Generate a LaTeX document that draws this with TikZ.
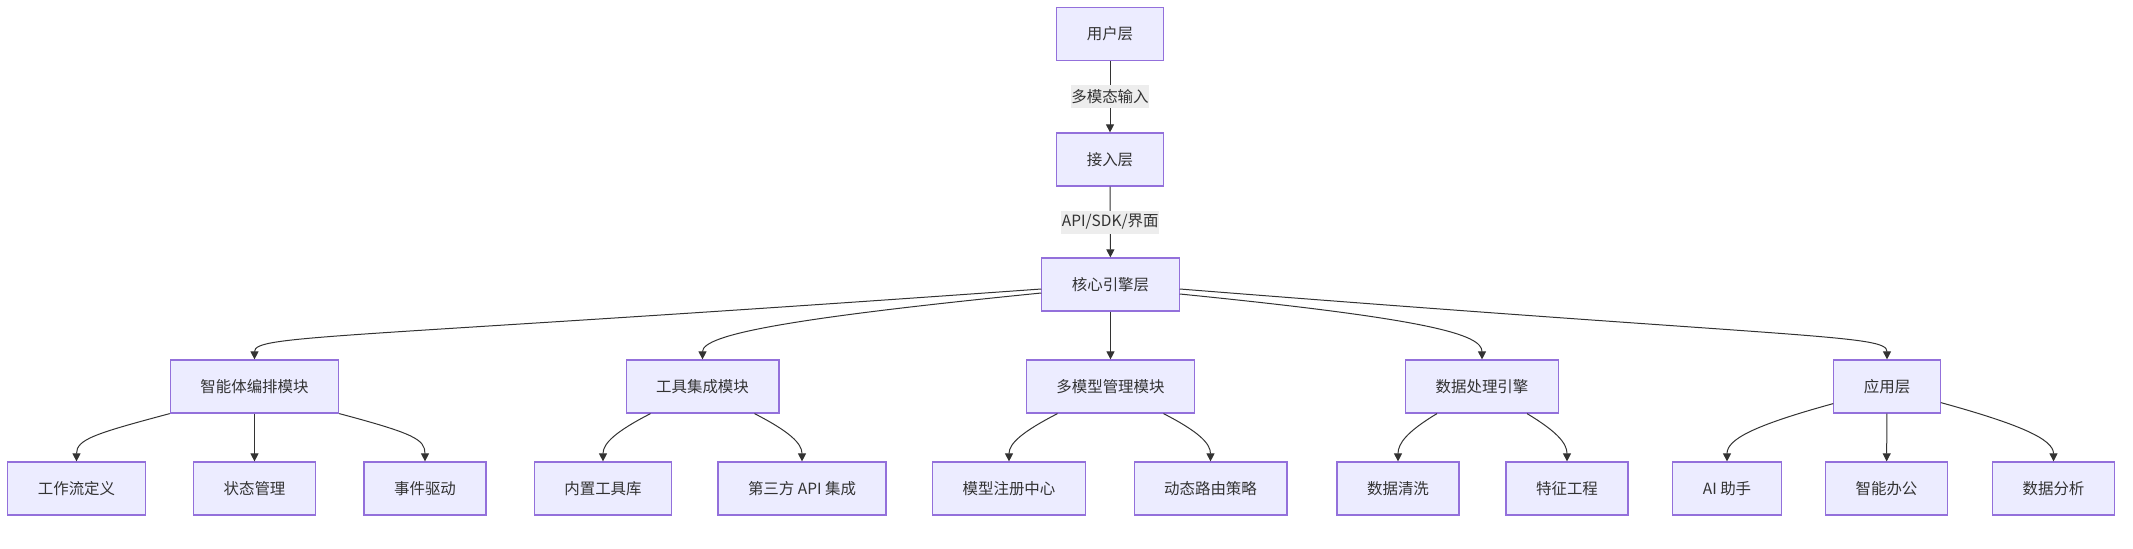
\documentclass[tikz,border=0pt]{standalone}
\usepackage{fontspec}
\newfontfamily\cjk{Noto Sans CJK SC}
\usetikzlibrary{arrows.meta,calc}
\definecolor{boxfill}{HTML}{ECECFF}
\definecolor{boxline}{HTML}{9370DB}
\definecolor{edgeline}{HTML}{333333}
\definecolor{labelfill}{HTML}{EDEDED}
\tikzset{
  box/.style={draw=boxline, fill=boxfill, line width=0.9pt, text=edgeline,
    font={\cjk\fontsize{11.6pt}{14pt}\selectfont}, inner xsep=22.5pt, inner ysep=0pt,
    minimum height=39.75pt},
  arr/.style={draw=edgeline, line width=0.75pt, -{Triangle[length=6pt,width=6pt]}},
  lbl/.style={fill=labelfill, text=edgeline, font={\cjk\fontsize{11.6pt}{14pt}\selectfont},
    inner xsep=0.5pt, inner ysep=0pt, minimum height=17.25pt}
}
\begin{document}
\begin{tikzpicture}[x=0.75pt,y=0.75pt]

%Picture frame
\useasboundingbox (0,0) rectangle (2133,-549);
%Row heights
\def\yA{-34}
\def\yB{-159.5}
\def\yC{-284.5}
\def\yD{-386.5}
\def\yE{-488.5}

%Marking layers
\node[box] (user) at (1110,\yA) {用户层};
\node[box] (access) at (1110,\yB) {接入层};
\node[box] (core) at (1110.5,\yC) {核心引擎层};

%Marking modules
\node[box] (agent) at (254.5,\yD) {智能体编排模块};
\node[box] (tool) at (702.5,\yD) {工具集成模块};
\node[box] (multi) at (1110.5,\yD) {多模型管理模块};
\node[box] (data) at (1482,\yD) {数据处理引擎};
\node[box] (app) at (1887,\yD) {应用层};

%Marking leaves
\node[box] (flow) at (76.5,\yE) {工作流定义};
\node[box] (state) at (254.5,\yE) {状态管理};
\node[box] (event) at (425,\yE) {事件驱动};
\node[box] (builtin) at (603,\yE) {内置工具库};
\node[box] (thirdapi) at (802,\yE) {第三方 API 集成};
\node[box] (registry) at (1009,\yE) {模型注册中心};
\node[box] (routing) at (1210.5,\yE) {动态路由策略};
\node[box] (clean) at (1398,\yE) {数据清洗};
\node[box] (feature) at (1567,\yE) {特征工程};
\node[box] (aihelp) at (1727,\yE) {AI 助手};
\node[box] (office) at (1886.5,\yE) {智能办公};
\node[box] (analysis) at (2053.5,\yE) {数据分析};

%Drawing main chain
\draw[arr] (user) -- node[lbl] {多模态输入} (access);
\draw[arr] (access) -- node[lbl] {API/SDK/界面} (core);
\draw[arr] ($(core.west)+(0,-4.5)$) .. controls +(-700,-50) and +(0,25) .. (agent.north);
\draw[arr] ($(core.west)+(0,-8.5)$) .. controls +(-250,-25) and +(0,25) .. (tool.north);
\draw[arr] (core) -- (multi);
\draw[arr] ($(core.east)+(0,-9.5)$) .. controls +(250,-25) and +(0,25) .. (data.north);
\draw[arr] ($(core.east)+(0,-4.5)$) .. controls +(630,-50) and +(0,25) .. (app.north);

%Drawing module branches
\draw[arr] (agent.south west) .. controls +(-75,-20) and +(0,22) .. (flow.north);
\draw[arr] (agent) -- (state);
\draw[arr] (agent.south east) .. controls +(75,-20) and +(0,22) .. (event.north);
\draw[arr] ($(tool.south)+(-52,0)$) .. controls +(-35,-18) and +(0,18) .. (builtin.north);
\draw[arr] ($(tool.south)+(52,0)$) .. controls +(35,-18) and +(0,18) .. (thirdapi.north);
\draw[arr] ($(multi.south)+(-53,0)$) .. controls +(-35,-18) and +(0,18) .. (registry.north);
\draw[arr] ($(multi.south)+(53,0)$) .. controls +(35,-18) and +(0,18) .. (routing.north);
\draw[arr] ($(data.south)+(-45,0)$) .. controls +(-30,-18) and +(0,18) .. (clean.north);
\draw[arr] ($(data.south)+(45,0)$) .. controls +(30,-18) and +(0,18) .. (feature.north);
\draw[arr] ($(app.south west)+(0,10)$) .. controls +(-80,-22) and +(0,22) .. (aihelp.north);
\draw[arr] (app) -- (office);
\draw[arr] ($(app.south east)+(0,11)$) .. controls +(80,-22) and +(0,22) .. (analysis.north);
\end{tikzpicture}
\end{document}
